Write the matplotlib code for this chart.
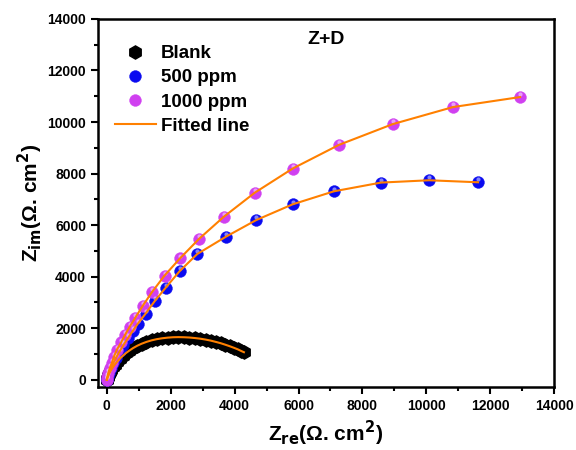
import numpy as np
import matplotlib
matplotlib.use("Agg")
import matplotlib.pyplot as plt
from matplotlib.ticker import MultipleLocator
from matplotlib.transforms import offset_copy

plt.rcParams['font.family'] = ['Liberation Sans', 'DejaVu Sans']
plt.rcParams['font.weight'] = 'bold'

# Blank
blank_re = [0, 10, 25, 45, 70, 100, 140, 190, 250, 320, 400, 490, 590, 700, 820,
            950, 1090, 1240, 1400, 1560, 1730, 1900, 2070, 2240, 2410, 2580, 2750,
            2920, 3090, 3250, 3410, 3560, 3710, 3850, 3980, 4100, 4200, 4290]
blank_im = [0, 40, 95, 160, 230, 300, 390, 490, 590, 700, 810, 920, 1030, 1130, 1230,
            1320, 1400, 1470, 1530, 1575, 1610, 1635, 1650, 1655, 1650, 1640, 1620,
            1595, 1560, 1520, 1470, 1420, 1360, 1300, 1240, 1180, 1120, 1070]

# 500 ppm
p500_re = [0, 8, 30, 70, 130, 200, 290, 400, 520, 660, 814, 971, 1212, 1494, 1838,
           2277, 2830, 3727, 4676, 5816, 7109, 8581, 10085, 11619]
p500_im = [0, 40, 140, 280, 450, 640, 860, 1100, 1350, 1620, 1900, 2178, 2567, 3046,
           3567, 4212, 4880, 5550, 6196, 6807, 7312, 7650, 7740, 7662]

# 1000 ppm
p1000_re = [0, 16, 47, 94, 157, 219, 313, 448, 573, 711, 886, 1127, 1409, 1807,
            2286, 2891, 3664, 4635, 5816, 7266, 8948, 10836, 12935]
p1000_im = [0, 117, 272, 467, 661, 895, 1167, 1451, 1750, 2050, 2400, 2878, 3396,
            4045, 4706, 5473, 6328, 7262, 8195, 9113, 9918, 10580, 10968]

fit_color = '#FF8000'

fig = plt.figure(figsize=(5.76, 4.5), dpi=100)
ax = fig.add_axes([0.170, 0.140, 0.792, 0.818])


def sphere(x, y, color, label):
    ax.plot(x, y, 'o', ms=8.5, mfc=color, mec=color, mew=0.3, label=label, zorder=3)
    # small highlight spot, shifted up a bit
    tr = offset_copy(ax.transData, fig=fig, x=0, y=2, units='points')
    ax.plot(x, y, 'o', ms=3, mfc='white', mec='none', alpha=0.5, transform=tr, zorder=4)


ax.plot(blank_re, blank_im, 'h', ms=9.5, color='black', label='Blank', zorder=3)
sphere(p500_re, p500_im, '#0A0AF0', '500 ppm')
sphere(p1000_re, p1000_im, '#D040F0', '1000 ppm')

ax.plot(blank_re, blank_im, '-', color=fit_color, lw=1.5, zorder=5, label='Fitted line')
ax.plot(p500_re, p500_im, '-', color=fit_color, lw=1.5, zorder=5)
ax.plot(p1000_re, p1000_im, '-', color=fit_color, lw=1.5, zorder=5)

ax.set_xlim(-280, 14000)
ax.set_ylim(-280, 14000)
ax.xaxis.set_major_locator(MultipleLocator(2000))
ax.yaxis.set_major_locator(MultipleLocator(2000))
ax.xaxis.set_minor_locator(MultipleLocator(1000))
ax.yaxis.set_minor_locator(MultipleLocator(1000))
ax.tick_params(which='major', direction='out', length=5, width=1.5, labelsize=10)
ax.tick_params(which='minor', direction='out', length=3, width=1.5)
for s in ax.spines.values():
    s.set_linewidth(1.8)

ax.set_xlabel(r'Z$_{\mathbf{re}}$(Ω. cm$^{\mathbf{2}}$)', fontsize=15, fontweight='bold')
ax.set_ylabel(r'Z$_{\mathbf{im}}$(Ω. cm$^{\mathbf{2}}$)', fontsize=15, fontweight='bold',
              labelpad=2)

ax.text(0.50, 0.943, 'Z+D', transform=ax.transAxes, fontsize=14, fontweight='bold',
        ha='center', va='center')

leg = ax.legend(loc='upper left', bbox_to_anchor=(0.0, 0.975), frameon=False,
                fontsize=13.5, handlelength=2.2, handletextpad=0.25, labelspacing=0.38)

fig.savefig('out.png', dpi=100)
